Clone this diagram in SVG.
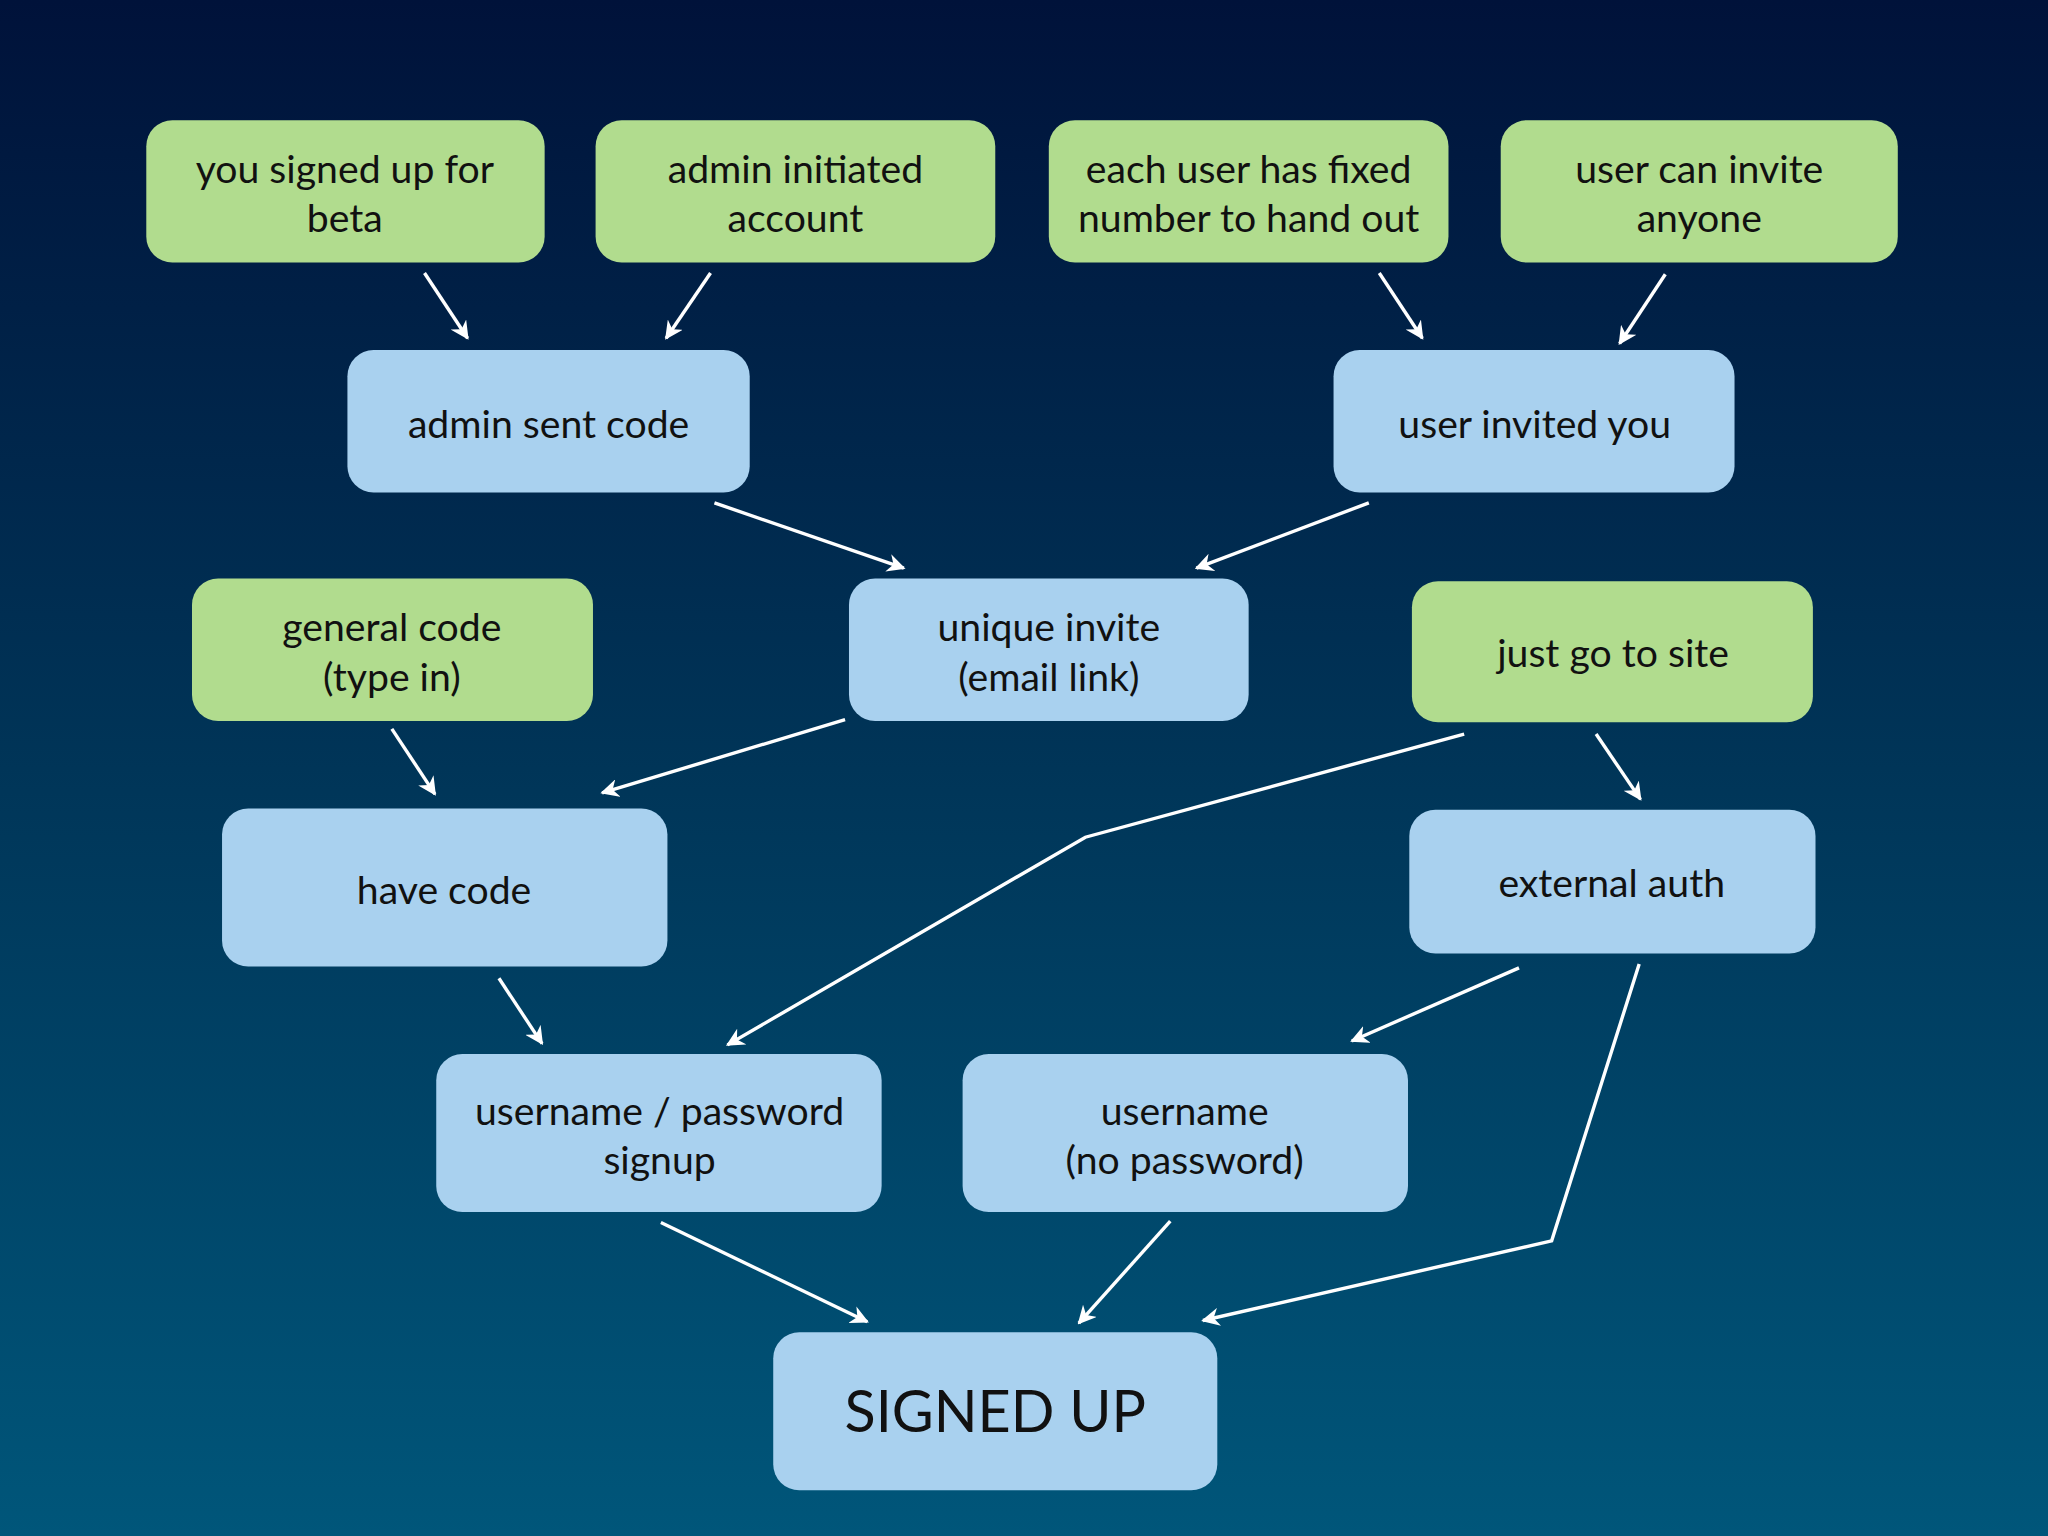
<svg xmlns="http://www.w3.org/2000/svg" width="2048" height="1536" viewBox="0 0 2048 1536">
<defs>
<linearGradient id="bg" x1="0" y1="0" x2="0" y2="1"><stop offset="0" stop-color="#00123a"/><stop offset="0.5" stop-color="#003558"/><stop offset="1" stop-color="#00567a"/></linearGradient>
<marker id="ah" viewBox="0 0 10 10" refX="9" refY="5" markerWidth="6" markerHeight="6" orient="auto" markerUnits="userSpaceOnUse"><path d="M0,0 L10,5 L0,10 L3,5 Z" fill="#fff"/></marker>
<style>
.g{fill:#b1dc8e}.b{fill:#a9d1ef}
text{font-family:Lato,"Open Sans","Liberation Sans",sans-serif;font-size:30px;fill:#111;text-anchor:middle}
.c path,.c polyline{fill:none;stroke:#fff;stroke-width:2.6;marker-end:url(#ah)}
</style>
<marker id="ah2" viewBox="0 0 10 10" refX="9" refY="5" markerWidth="14" markerHeight="14" orient="auto" markerUnits="userSpaceOnUse"><path d="M0,0 L10,5 L0,10 L3,5 Z" fill="#fff"/></marker>
</defs>
<rect width="2048" height="1536" fill="url(#bg)"/>
<g transform="scale(1.30612)">
<style>.c path,.c polyline{marker-end:url(#ah2)}</style>
<g id="n1"><rect class="g" x="112" y="92" width="305" height="109" rx="20"/><text x="264" y="140">you signed up for</text><text x="264" y="178">beta</text></g>
<g id="n2"><rect class="g" x="456" y="92" width="306" height="109" rx="20"/><text x="609" y="140">admin initiated</text><text x="609" y="178">account</text></g>
<g id="n3"><rect class="g" x="803" y="92" width="306" height="109" rx="20"/><text x="956" y="140">each user has fixed</text><text x="956" y="178">number to hand out</text></g>
<g id="n4"><rect class="g" x="1149" y="92" width="304" height="109" rx="20"/><text x="1301" y="140">user can invite</text><text x="1301" y="178">anyone</text></g>
<g id="n5"><rect class="b" x="266" y="268" width="308" height="109" rx="20"/><text x="420" y="335">admin sent code</text></g>
<g id="n6"><rect class="b" x="1021" y="268" width="307" height="109" rx="20"/><text x="1175" y="335">user invited you</text></g>
<g id="n7"><rect class="g" x="147" y="443" width="307" height="109" rx="20"/><text x="300" y="491">general code</text><text x="300" y="529">(type in)</text></g>
<g id="n8"><rect class="b" x="650" y="443" width="306" height="109" rx="20"/><text x="803" y="491">unique invite</text><text x="803" y="529">(email link)</text></g>
<g id="n9"><rect class="g" x="1081" y="445" width="307" height="108" rx="20"/><text x="1235" y="511">just go to site</text></g>
<g id="n10"><rect class="b" x="170" y="619" width="341" height="121" rx="20"/><text x="340" y="692">have code</text></g>
<g id="n11"><rect class="b" x="1079" y="620" width="311" height="110" rx="20"/><text x="1234" y="687">external auth</text></g>
<g id="n12"><rect class="b" x="334" y="807" width="341" height="121" rx="20"/><text x="505" y="861">username / password</text><text x="505" y="899">signup</text></g>
<g id="n13"><rect class="b" x="737" y="807" width="341" height="121" rx="20"/><text x="907" y="861">username</text><text x="907" y="899">(no password)</text></g>
<g id="n14"><rect class="b" x="592" y="1020" width="340" height="121" rx="20"/><text x="762" y="1096" style="font-size:44px">SIGNED UP</text></g>
<g class="c" id="connectors">
<path d="M325,209 L358,259"/><path d="M544,209 L510,259"/>
<path d="M1056,209 L1089,259"/><path d="M1275,210 L1240,263"/>
<path d="M547,385 L692,435"/><path d="M1048,385 L916,435"/>
<path d="M300,558 L333,608"/><path d="M647,551 L461,607"/>
<polyline points="1121,562 831,641 557,800"/>
<path d="M1222,562 L1256,612"/><path d="M382,749 L415,799"/>
<path d="M1163,741 L1035,797"/>
<polyline points="1255,738 1188,950 921,1011"/>
<path d="M506,936 L664,1012"/><path d="M896,935 L826,1013"/>
</g>
</g>
</svg>
